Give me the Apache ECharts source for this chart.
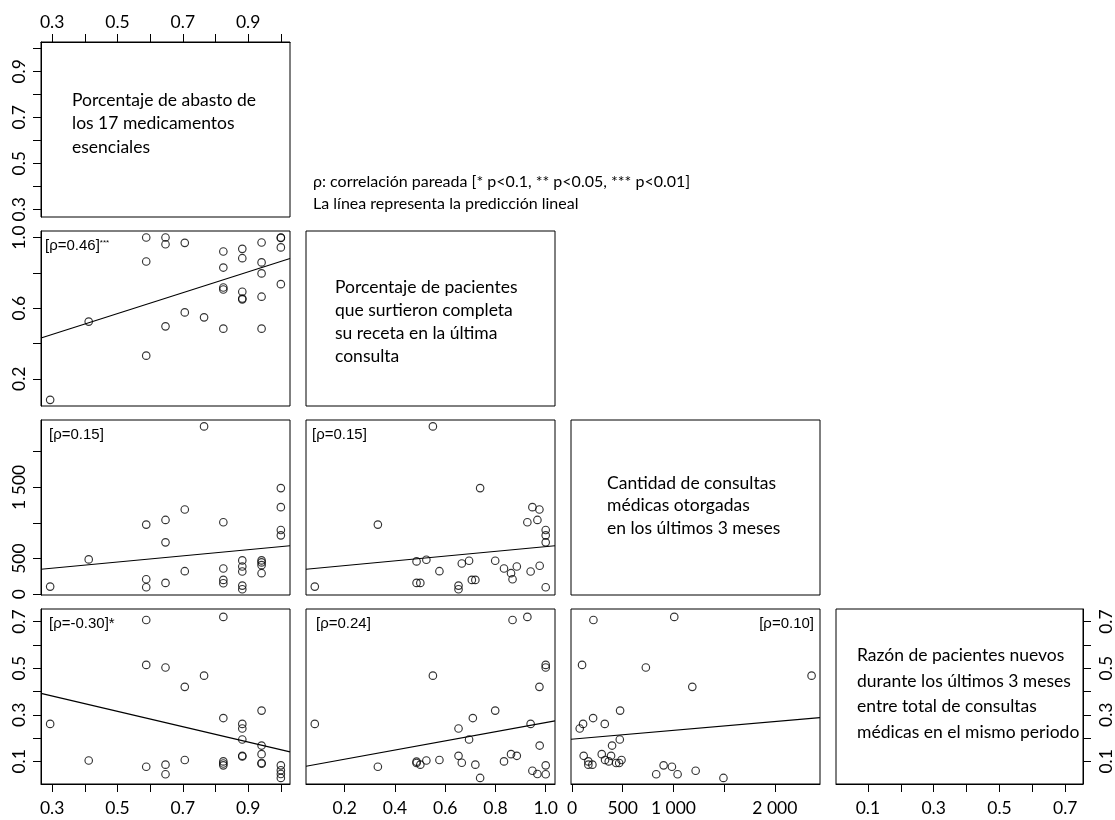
<!DOCTYPE html>
<html><head><meta charset="utf-8">
<script src="https://cdn.jsdelivr.net/npm/echarts@6/dist/echarts.min.js"></script>
<style>html,body{margin:0;padding:0;background:#fff}#c{width:1115px;height:820px}</style>
</head><body><div id="c"></div>
<script>
// ---------- data ----------
const diagLabels = [
  ['Porcentaje de abasto de', 'los 17 medicamentos', 'esenciales'],
  ['Porcentaje de pacientes', 'que surtieron completa', 'su receta en la última', 'consulta'],
  ['Cantidad de consultas', 'médicas otorgadas', 'en los últimos 3 meses'],
  ['Razón de pacientes nuevos', 'durante los últimos 3 meses', 'entre total de consultas', 'médicas en el mismo periodo']
];
const headerLines = ['ρ: correlación pareada [* p<0.1, ** p<0.05, *** p<0.01]', 'La línea representa la predicción lineal'];

// axis ranges per variable (abasto, surtieron, consultas, razón)
const varMin = [0.266, 0.046, -10, 0.003];
const varMax = [1.028, 1.037, 2445, 0.754];
const tickValues = [
  [0.3, 0.4, 0.5, 0.6, 0.7, 0.8, 0.9, 1.0],
  [0.2, 0.4, 0.6, 0.8, 1.0],
  [0, 500, 1000, 1500, 2000],
  [0.1, 0.2, 0.3, 0.4, 0.5, 0.6, 0.7]
];
const xLabelValues = [
  [0.3, 0.5, 0.7, 0.9],
  [0.2, 0.4, 0.6, 0.8, 1.0],
  [0, 500, 1000, 2000],
  [0.1, 0.3, 0.5, 0.7]
];
const yLabelValues = [
  [0.3, 0.5, 0.7, 0.9],
  [0.2, 0.6, 1.0],
  [0, 500, 1500],
  [0.1, 0.3, 0.5, 0.7]
];

const abastoSurtieron = [[0.294,0.081],[0.412,0.524],[0.588,1.0],[0.588,0.864],[0.588,0.331],[0.647,1.0],[0.647,0.962],[0.647,0.497],[0.706,0.97],[0.706,0.576],[0.765,0.548],[0.824,0.921],[0.824,0.83],[0.824,0.717],[0.824,0.706],[0.824,0.484],[0.882,0.936],[0.882,0.883],[0.882,0.693],[0.882,0.655],[0.882,0.65],[0.941,0.972],[0.941,0.859],[0.941,0.797],[0.941,0.665],[0.941,0.484],[1.0,1.0],[1.0,0.998],[1.0,0.944],[1.0,0.736]];
const abastoConsultas = [[0.294,108],[0.412,489],[0.588,978],[0.588,211],[0.588,99],[0.647,1043],[0.647,729],[0.647,160],[0.706,1189],[0.706,324],[0.765,2355],[0.824,1010],[0.824,362],[0.824,202],[0.824,155],[0.882,475],[0.882,390],[0.882,320],[0.882,122],[0.882,70],[0.941,475],[0.941,447],[0.941,409],[0.941,296],[1.0,1490],[1.0,1222],[1.0,902],[1.0,827]];
const abastoRazon = [[0.294,0.261],[0.412,0.104],[0.588,0.707],[0.588,0.514],[0.588,0.077],[0.647,0.503],[0.647,0.086],[0.647,0.045],[0.706,0.42],[0.706,0.106],[0.765,0.468],[0.824,0.72],[0.824,0.286],[0.824,0.1],[0.824,0.091],[0.824,0.083],[0.882,0.261],[0.882,0.241],[0.882,0.194],[0.882,0.124],[0.882,0.121],[0.941,0.318],[0.941,0.168],[0.941,0.131],[0.941,0.093],[0.941,0.09],[1.0,0.083],[1.0,0.062],[1.0,0.046],[1.0,0.029]];
const surtieronConsultas = [[0.081,108],[0.332,978],[0.486,461],[0.486,160],[0.501,160],[0.525,484],[0.551,2355],[0.577,324],[0.653,122],[0.653,70],[0.666,432],[0.695,470],[0.706,202],[0.72,202],[0.739,1490],[0.799,470],[0.834,362],[0.862,296],[0.868,211],[0.885,390],[0.927,1010],[0.94,320],[0.947,1222],[0.967,1043],[0.975,1189],[0.976,400],[1.0,902],[1.0,827],[1.0,729],[1.0,99]];
const surtieronRazon = [[0.081,0.261],[0.332,0.077],[0.486,0.099],[0.486,0.093],[0.501,0.086],[0.525,0.104],[0.551,0.468],[0.577,0.106],[0.653,0.241],[0.653,0.124],[0.666,0.094],[0.695,0.194],[0.71,0.286],[0.72,0.086],[0.739,0.029],[0.799,0.318],[0.834,0.1],[0.862,0.131],[0.868,0.707],[0.885,0.124],[0.927,0.72],[0.94,0.261],[0.947,0.06],[0.967,0.046],[0.975,0.42],[0.976,0.168],[1.0,0.514],[1.0,0.503],[1.0,0.083],[1.0,0.045]];
const consultasRazon = [[76,0.241],[99,0.514],[109,0.261],[115,0.124],[161,0.1],[161,0.086],[201,0.086],[208,0.286],[211,0.707],[293,0.131],[323,0.261],[326,0.106],[362,0.1],[385,0.124],[395,0.168],[435,0.093],[465,0.093],[471,0.194],[474,0.318],[488,0.106],[728,0.503],[830,0.045],[903,0.083],[985,0.077],[1008,0.72],[1041,0.045],[1186,0.42],[1219,0.06],[1493,0.029],[2362,0.468]];

// linear predictions (value at the two ends of each panel's x range)
const fitAbastoSurtieron = [[0.266,0.431],[1.028,0.881]];
const fitAbastoConsultas = [[0.266,352],[1.028,681]];
const fitAbastoRazon = [[0.266,0.392],[1.028,0.141]];
const fitSurtieronConsultas = [[0.046,352],[1.037,681]];
const fitSurtieronRazon = [[0.046,0.079],[1.037,0.274]];
const fitConsultasRazon = [[-10,0.195],[2445,0.288]];

const rhoMain = ['[ρ=0.46]', '[ρ=0.15]', '[ρ=-0.30]', '[ρ=0.15]', '[ρ=0.24]', '[ρ=0.10]'];
const rhoStars = ['***', '', '*', '', '', ''];

// ---------- layout ----------
const colLeft = [41, 306, 571, 836];
const rowTop = [42, 231, 420, 609];
const W = 249, H = 175;
const FONT = 'Lato';
const RFONT = 'Liberation Sans';
const TICKFS = 17.5;

const panels = [
  {r:1,c:0,data:abastoSurtieron,fit:fitAbastoSurtieron,k:0,dx:4,right:false},
  {r:2,c:0,data:abastoConsultas,fit:fitAbastoConsultas,k:1,dx:8,right:false},
  {r:3,c:0,data:abastoRazon,fit:fitAbastoRazon,k:2,dx:8,right:false},
  {r:2,c:1,data:surtieronConsultas,fit:fitSurtieronConsultas,k:3,dx:6,right:false},
  {r:3,c:1,data:surtieronRazon,fit:fitSurtieronRazon,k:4,dx:10,right:false},
  {r:3,c:2,data:consultasRazon,fit:fitConsultasRazon,k:5,dx:6,right:true},
  {r:0,c:0,diag:true},{r:1,c:1,diag:true},{r:2,c:2,diag:true},{r:3,c:3,diag:true}
];

function fmtFor(v){
  if (v === 2) return x => x >= 1000 ? Math.floor(x/1000) + ' ' + String(x % 1000).padStart(3,'0') : String(x);
  return x => Number(x).toFixed(1);
}

const grids = [], xAxes = [], yAxes = [], series = [], graphics = [];
panels.forEach((p, i) => {
  grids.push({left: colLeft[p.c], top: rowTop[p.r], width: W, height: H, show: true,
    borderColor: '#000', borderWidth: 1, backgroundColor: 'rgba(0,0,0,0)'});
  const showX = (p.r === 3) || (p.r === 0 && p.c === 0);
  const showY = (p.c === 0) || (p.r === 3 && p.c === 3);
  xAxes.push({
    gridIndex: i, type: 'value', min: varMin[p.c], max: varMax[p.c],
    position: (p.r === 0) ? 'top' : 'bottom', show: showX,
    axisLine: {show: showX, onZero: false, lineStyle: {color: '#000', width: 1}},
    axisTick: {show: showX, length: 8, customValues: tickValues[p.c], lineStyle: {color: '#000', width: 1}},
    axisLabel: {show: showX, customValues: xLabelValues[p.c], formatter: fmtFor(p.c),
      fontFamily: FONT, fontSize: TICKFS, color: '#000', margin: (p.r === 0) ? 11 : 15},
    splitLine: {show: false}
  });
  yAxes.push({
    gridIndex: i, type: 'value', min: varMin[p.r], max: varMax[p.r],
    position: (p.c === 3) ? 'right' : 'left', show: showY,
    axisLine: {show: showY, onZero: false, lineStyle: {color: '#000', width: 1}},
    axisTick: {show: showY, length: 8, customValues: tickValues[p.r], lineStyle: {color: '#000', width: 1}},
    axisLabel: {show: showY, customValues: yLabelValues[p.r], formatter: fmtFor(p.r), rotate: 90,
      fontFamily: FONT, fontSize: TICKFS, color: '#000', margin: (p.c === 3) ? 14 : 13},
    splitLine: {show: false}
  });
  if (!p.diag) {
    series.push({type: 'scatter', xAxisIndex: i, yAxisIndex: i, data: p.data, symbol: 'circle', symbolSize: 7.5,
      itemStyle: {color: 'rgba(0,0,0,0)', borderColor: '#000', borderWidth: 1.15}, silent: true, z: 3});
    series.push({type: 'line', xAxisIndex: i, yAxisIndex: i, data: p.fit, symbol: 'none',
      lineStyle: {color: '#000', width: 1.1}, silent: true, z: 2});
    const rich = {m: {fontFamily: RFONT, fontSize: 15, fill: '#000'},
                  s: {fontFamily: RFONT, fontSize: p.k === 0 ? 8 : 15, fill: '#000', verticalAlign: 'top'}};
    graphics.push({type: 'text', x: p.right ? colLeft[p.c] + W - p.dx : colLeft[p.c] + p.dx, y: rowTop[p.r] + 15,
      style: {text: '{m|' + rhoMain[p.k] + '}' + (rhoStars[p.k] ? '{s|' + rhoStars[p.k] + '}' : ''),
        rich: rich, align: p.right ? 'right' : 'left', verticalAlign: 'middle', fill: '#000'}});
  }
});

// diagonal labels
const diagPos = [
  {x: 72, y: 123.5, lh: 23.5},
  {x: 335, y: 321.5, lh: 23},
  {x: 607, y: 505.5, lh: 22.5},
  {x: 857, y: 694, lh: 25.5}
];
diagLabels.forEach((lines, d) => {
  graphics.push({type: 'text', x: diagPos[d].x, y: diagPos[d].y,
    style: {text: lines.join('\n'), fontFamily: FONT, fontSize: 17.5, lineHeight: diagPos[d].lh,
      fill: '#000', align: 'left', verticalAlign: 'middle'}});
});
// header note
headerLines.forEach((t, j) => {
  graphics.push({type: 'text', x: 313, y: 182 + j * 22,
    style: {text: t, fontFamily: FONT, fontSize: 16, fill: '#000', align: 'left', verticalAlign: 'middle'}});
});

const chart = echarts.init(document.getElementById('c'), null, {renderer: 'canvas'});
chart.setOption({
  animation: false,
  backgroundColor: '#fff',
  textStyle: {fontFamily: FONT},
  grid: grids, xAxis: xAxes, yAxis: yAxes, series: series, graphic: graphics
});
</script></body></html>
